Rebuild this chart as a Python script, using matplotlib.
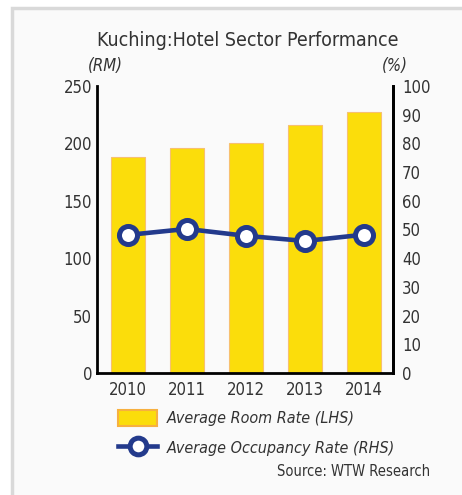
import matplotlib
matplotlib.use("Agg")
import matplotlib.pyplot as plt
from matplotlib.patches import Rectangle, Patch
from matplotlib.lines import Line2D
from matplotlib import font_manager

years = ["2010", "2011", "2012", "2013", "2014"]
room_rate = [188, 196, 200, 216, 227]        # RM, left axis
occupancy = [48.1, 50.2, 47.8, 46.0, 48.2]   # %, right axis

# prefer a narrow face if one is installed
font, stretch = "Roboto", "normal"
for f in font_manager.fontManager.ttflist:
    if f.name == "Liberation Sans Narrow":
        font, stretch = f.name, "normal"
        break
    if f.name in ("DejaVu Sans", "Noto Sans", "Open Sans", "Roboto") and \
            f.stretch in ("condensed", "semi-condensed", 600, 700, 300, 400) and \
            "ondensed" in f.fname:
        font, stretch = f.name, f.stretch
plt.rcParams["font.family"] = [font, "DejaVu Sans"]
plt.rcParams["font.stretch"] = stretch

txt = "#333333"
yellow = "#fbdd0b"
navy = "#233a8c"

fig = plt.figure(figsize=(4.62, 4.95), dpi=100)

# panel background with grey border
fig.patches.append(Rectangle((12 / 462, -0.05), 1.0, 1 - 8 / 495 + 0.05,
                             transform=fig.transFigure, facecolor="#fafafa",
                             edgecolor="#d9d9d9", lw=2.5, zorder=-5))

ax = fig.add_axes([97 / 462, 1 - 373 / 495, 296 / 462, 287 / 495])
ax.patch.set_alpha(0)
x = list(range(len(years)))
ax.bar(x, room_rate, width=0.57, color=yellow, edgecolor="#f7c070", linewidth=0.8)
ax.set_ylim(0, 250)
ax.set_xlim(-0.52, 4.49)
ax.set_xticks(x)
ax.set_xticklabels(years)
ax.set_yticks(range(0, 251, 50))
ax.tick_params(axis="y", length=0, pad=3.5, labelsize=12, labelcolor=txt)
ax.tick_params(axis="x", length=0, pad=6, labelsize=12, labelcolor=txt)
ax.spines["top"].set_visible(False)
for s in ["left", "bottom", "right"]:
    ax.spines[s].set_linewidth(2)
    ax.spines[s].set_color("black")

ax2 = ax.twinx()
ax2.plot(x, occupancy, color=navy, lw=3.3, marker="o", markersize=13,
         markerfacecolor="white", markeredgecolor=navy, markeredgewidth=3.6)
ax2.set_ylim(0, 100)
ax2.set_yticks(range(0, 101, 10))
ax2.tick_params(axis="y", length=0, pad=6.5, labelsize=12, labelcolor=txt)
ax2.spines["top"].set_visible(False)
ax2.spines["left"].set_visible(False)
ax2.spines["bottom"].set_visible(False)
ax2.spines["right"].set_linewidth(2)

fig.text(248 / 462, 1 - 40 / 495, "Kuching:Hotel Sector Performance",
         ha="center", va="center", fontsize=14, color=txt)
fig.text(105 / 462, 1 - 66 / 495, "(RM)", ha="center", va="center",
         fontsize=12, style="italic", color=txt)
fig.text(395 / 462, 1 - 66 / 495, "(%)", ha="center", va="center",
         fontsize=12, style="italic", color=txt)
fig.text(430 / 462, 1 - 472 / 495, "Source: WTW Research", ha="right",
         va="center", fontsize=10.5, color=txt)

handles = [
    Patch(facecolor=yellow, edgecolor="#f7b040", linewidth=1.5),
    Line2D([], [], color=navy, lw=3.3, marker="o", markersize=12,
           markerfacecolor="white", markeredgecolor=navy, markeredgewidth=3.6),
]
leg = fig.legend(handles, ["Average Room Rate (LHS)", "Average Occupancy Rate (RHS)"],
                 loc="upper left", bbox_to_anchor=(118 / 462, 1 - 410 / 495),
                 frameon=False, borderpad=0, borderaxespad=0, handlelength=2.45,
                 handleheight=1.15, handletextpad=0.6, labelspacing=0.82,
                 prop={"size": 11.5, "style": "italic"})
for t in leg.get_texts():
    t.set_color(txt)

fig.savefig("out.png", dpi=100)
